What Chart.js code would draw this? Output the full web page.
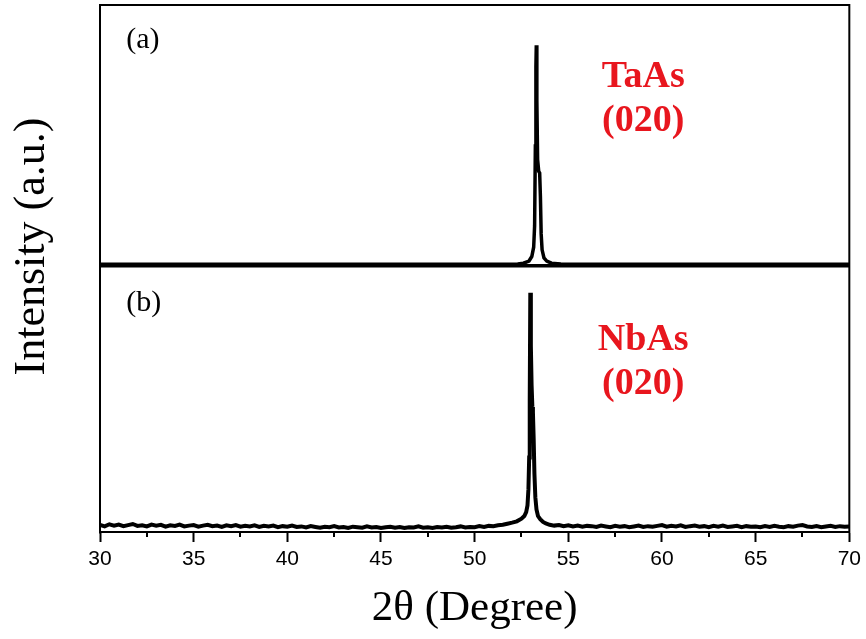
<!DOCTYPE html>
<html>
<head>
<meta charset="utf-8">
<script src="https://cdn.jsdelivr.net/npm/chart.js@4.4.1/dist/chart.umd.min.js"></script>
<style>
  html, body { margin: 0; padding: 0; background: #fff; }
  #wrap { width: 866px; height: 639px; }
</style>
</head>
<body>
<div id="wrap"><canvas id="xrd" width="866" height="639"></canvas></div>
<script>
// 2theta (deg), intensity (a.u., 0-100 inside each panel)
const taAsScan = [
  [30, 0.6], [35, 0.6], [40, 0.6], [45, 0.6], [50, 0.6], [52.3, 0.7],
  [52.6, 1.0], [52.9, 1.8], [53.05, 3.5], [53.15, 7], [53.2, 15],
  [53.24, 45], [53.27, 75], [53.29, 82.9], [53.32, 62], [53.36, 40],
  [53.42, 35.5], [53.47, 34.9], [53.51, 26], [53.55, 12], [53.6, 6],
  [53.7, 3], [53.85, 1.8], [54.1, 1.0], [54.6, 0.7], [55, 0.6],
  [60, 0.6], [65, 0.6], [70, 0.6]
];

const nbAsScan = [
  [30.00, 2.7], [30.25, 2.1], [30.50, 2.9], [30.75, 2.4], [31.00, 2.8], [31.25, 2.2],
  [31.50, 2.6], [31.75, 3.0], [32.00, 2.3], [32.25, 2.5], [32.50, 2.1], [32.75, 2.8],
  [33.00, 2.4], [33.25, 2.7], [33.50, 2.0], [33.75, 2.5], [34.00, 2.3], [34.25, 2.8],
  [34.50, 2.1], [34.75, 2.4], [35.00, 2.6], [35.25, 2.0], [35.50, 2.4], [35.75, 2.7],
  [36.00, 2.2], [36.25, 2.4], [36.50, 1.9], [36.75, 2.5], [37.00, 2.2], [37.25, 2.6],
  [37.50, 2.0], [37.75, 2.3], [38.00, 2.1], [38.25, 2.5], [38.50, 1.9], [38.75, 2.3],
  [39.00, 2.1], [39.25, 2.4], [39.50, 1.8], [39.75, 2.2], [40.00, 2.0], [40.25, 2.4],
  [40.50, 1.9], [40.75, 2.1], [41.00, 1.7], [41.25, 2.2], [41.50, 1.9], [41.75, 1.6],
  [42.00, 2.0], [42.25, 1.8], [42.50, 2.2], [42.75, 1.7], [43.00, 1.9], [43.25, 1.5],
  [43.50, 2.0], [43.75, 1.8], [44.00, 1.6], [44.25, 2.1], [44.50, 1.7], [44.75, 1.9],
  [45.00, 1.5], [45.25, 1.8], [45.50, 2.0], [45.75, 1.6], [46.00, 1.9], [46.25, 1.5],
  [46.50, 1.8], [46.75, 1.7], [47.00, 2.1], [47.25, 1.6], [47.50, 1.8], [47.75, 1.5],
  [48.00, 1.9], [48.25, 1.7], [48.50, 2.0], [48.75, 1.6], [49.00, 1.8], [49.25, 2.1],
  [49.50, 1.7], [49.75, 1.9], [50.00, 1.8], [50.25, 2.2], [50.50, 1.9], [50.75, 2.3],
  [51.00, 2.2], [51.25, 2.5], [51.50, 2.7], [51.75, 3.1], [52.00, 3.5], [52.25, 4.0],
  [52.50, 5.0], [52.65, 6.0], [52.75, 7.5], [52.82, 10], [52.87, 16], [52.91, 28],
  [52.94, 50], [52.97, 89.9], [53.00, 70], [53.04, 55], [53.08, 47], [53.11, 45],
  [53.15, 35], [53.19, 22], [53.24, 13], [53.30, 8.5], [53.38, 6.0], [53.50, 4.8],
  [53.65, 3.8], [53.80, 3.2], [54.00, 2.7],
  [54.25, 2.4], [54.50, 2.6], [54.75, 2.2], [55.00, 2.5], [55.25, 2.1], [55.50, 2.4],
  [55.75, 2.0], [56.00, 2.3], [56.25, 2.2], [56.50, 1.9], [56.75, 2.4], [57.00, 2.1],
  [57.25, 1.8], [57.50, 2.3], [57.75, 2.0], [58.00, 2.2], [58.25, 1.8], [58.50, 2.1],
  [58.75, 2.4], [59.00, 1.9], [59.25, 2.2], [59.50, 2.0], [59.75, 2.3], [60.00, 2.6],
  [60.25, 2.0], [60.50, 2.3], [60.75, 2.1], [61.00, 2.5], [61.25, 1.9], [61.50, 2.2],
  [61.75, 2.4], [62.00, 2.0], [62.25, 2.2], [62.50, 1.8], [62.75, 2.3], [63.00, 2.0],
  [63.25, 2.4], [63.50, 1.9], [63.75, 2.1], [64.00, 2.3], [64.25, 1.8], [64.50, 2.2],
  [64.75, 2.0], [65.00, 2.1], [65.25, 1.8], [65.50, 2.2], [65.75, 1.9], [66.00, 2.3],
  [66.25, 2.0], [66.50, 1.8], [66.75, 2.2], [67.00, 2.0], [67.25, 2.4], [67.50, 2.6],
  [67.75, 2.1], [68.00, 1.9], [68.25, 2.2], [68.50, 1.8], [68.75, 2.1], [69.00, 2.3],
  [69.25, 1.9], [69.50, 2.2], [69.75, 2.0], [70.00, 2.1]
];

const xMajorTicks = [30, 35, 40, 45, 50, 55, 60, 65, 70];
const xMinorTicks = [32.5, 37.5, 42.5, 47.5, 52.5, 57.5, 62.5, 67.5];

// top panel sits above the bottom one on a shared axis
const PANEL_OFFSET = 100;

const panelLabels = ['(a)', '(b)'];
const phaseLabels = [['TaAs', '(020)'], ['NbAs', '(020)']];

const RED = '#e8161e';
const serif = "'Liberation Serif', 'Times New Roman', serif";
const sans = "'Liberation Sans', Arial, sans-serif";

// frame, minor ticks and the text labels inside the panels
const decorPlugin = {
  id: 'decor',
  afterDraw(chart) {
    const { ctx, chartArea: a, scales } = chart;
    const x = scales.x, y = scales.y;
    ctx.save();
    ctx.strokeStyle = '#000';
    ctx.lineWidth = 2;
    ctx.strokeRect(a.left, a.top, a.right - a.left, a.bottom - a.top);

    ctx.beginPath();
    xMinorTicks.forEach(v => {
      const px = Math.round(x.getPixelForValue(v));
      ctx.moveTo(px, a.bottom);
      ctx.lineTo(px, a.bottom + 5);
    });
    ctx.stroke();

    ctx.fillStyle = '#000';
    ctx.textAlign = 'left';
    ctx.textBaseline = 'middle';
    ctx.font = '30px ' + serif;
    ctx.fillText(panelLabels[0], x.getPixelForValue(31.4), y.getPixelForValue(184.8));
    ctx.fillText(panelLabels[1], x.getPixelForValue(31.4), y.getPixelForValue(86));

    ctx.fillStyle = RED;
    ctx.textAlign = 'center';
    ctx.font = 'bold 38px ' + serif;
    const cx = x.getPixelForValue(59.0);
    ctx.fillText(phaseLabels[0][0], cx, y.getPixelForValue(171.0));
    ctx.fillText(phaseLabels[0][1], cx, y.getPixelForValue(154.5));
    ctx.fillText(phaseLabels[1][0], cx, y.getPixelForValue(72.0));
    ctx.fillText(phaseLabels[1][1], cx, y.getPixelForValue(55.5));
    ctx.restore();
  }
};

new Chart(document.getElementById('xrd'), {
  type: 'line',
  data: {
    datasets: [
      {
        label: 'TaAs',
        data: taAsScan.map(([t, i]) => ({ x: t, y: i + PANEL_OFFSET })),
        borderColor: '#000',
        borderWidth: 3.5,
        pointRadius: 0,
        tension: 0,
      },
      {
        label: 'NbAs',
        data: nbAsScan.map(([t, i]) => ({ x: t, y: i })),
        borderColor: '#000',
        borderWidth: 4,
        pointRadius: 0,
        tension: 0,
      },
    ],
  },
  options: {
    responsive: false,
    animation: false,
    layout: { padding: { top: 5, right: 13, bottom: 0, left: 0 } },
    plugins: { legend: { display: false }, tooltip: { enabled: false } },
    scales: {
      x: {
        type: 'linear',
        min: 30,
        max: 70,
        afterBuildTicks: s => { s.ticks = xMajorTicks.map(v => ({ value: v })); },
        afterFit: s => { s.height = 107; },
        ticks: { color: '#000', font: { family: sans, size: 21 }, padding: 5, maxRotation: 0 },
        grid: { drawOnChartArea: false, tickLength: 10, tickWidth: 2, tickColor: '#000' },
        border: { color: '#000', width: 2 },
        title: {
          display: true,
          text: '2θ (Degree)',
          color: '#000',
          font: { family: serif, size: 43 },
          padding: { top: 4, bottom: 4 },
        },
      },
      y: {
        min: 0,
        max: 198,
        afterBuildTicks: s => { s.ticks = [{ value: 0 }, { value: PANEL_OFFSET }]; },
        afterFit: s => { s.width = 100; },
        ticks: { display: false },
        grid: {
          drawTicks: false,
          color: c => (c.tick && c.tick.value === PANEL_OFFSET ? '#000' : 'rgba(0,0,0,0)'),
          lineWidth: 3.5,
        },
        border: { color: '#000', width: 2 },
        title: {
          display: true,
          // leading no-break spaces nudge the centred title upward like the original
          text: '\u00A0\u00A0\u00A0\u00A0Intensity (a.u.)',
          color: '#000',
          font: { family: serif, size: 44 },
          padding: { top: 6, bottom: 0 },
        },
      },
    },
  },
  plugins: [decorPlugin],
});
</script>
</body>
</html>
